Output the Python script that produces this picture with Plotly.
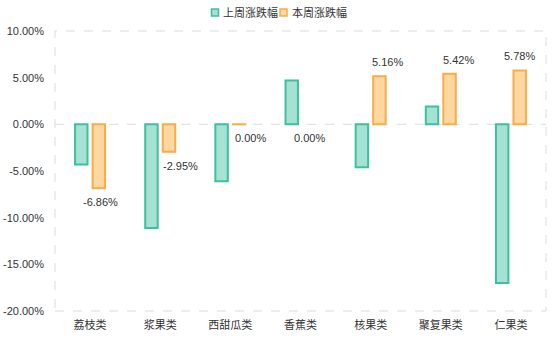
import plotly.graph_objects as go

categories = ["荔枝类", "浆果类", "西甜瓜类", "香蕉类", "核果类", "聚复果类", "仁果类"]
last_week = [-4.3, -11.1, -6.1, 4.7, -4.6, 1.9, -17.0]
this_week = [-6.86, -2.95, -0.001, 0.00, 5.16, 5.42, 5.78]
series_names = ["上周涨跌幅", "本周涨跌幅"]
y_ticks = [-20, -15, -10, -5, 0, 5, 10]

FONT = "Liberation Sans, Noto Sans CJK SC, sans-serif"
TXT = "#333333"
GREEN_FILL, GREEN_LINE = "#a5e2d4", "#3dc09e"
ORANGE_FILL, ORANGE_LINE = "#fed7a1", "#f9ac47"

# horizontal nudges of the data labels (px) so they clear neighbouring bars, as in the original
label_dx = [10, 20, 20, 9, 17, 18, 9]


def fmt(v):
    return f"{v:.2f}%".replace("-0.00%", "0.00%")


fig = go.Figure()
fig.add_trace(go.Bar(
    x=categories, y=last_week, name=series_names[0],
    marker=dict(color=GREEN_FILL, line=dict(color=GREEN_LINE, width=2)),
    showlegend=False,
))
fig.add_trace(go.Bar(
    x=categories, y=this_week, name=series_names[1],
    marker=dict(color=ORANGE_FILL,
                line=dict(color=ORANGE_LINE, width=[0 if v == 0 else 2 for v in this_week])),
    showlegend=False,
))

# data labels for this week's series, anchored at the bar ends
annotations = []
for c, v, dx in zip(categories, this_week, label_dx):
    pos = v > 0
    annotations.append(dict(
        x=c, y=v, xref="x", yref="y", text=fmt(v), showarrow=False,
        xshift=dx, yshift=6 if pos else -6, yanchor="bottom" if pos else "top",
        font=dict(family=FONT, size=11, color=TXT),
    ))

# compact legend (small squares + labels) at top centre
legend_items = [(series_names[0], GREEN_FILL, GREEN_LINE, 211.5), (series_names[1], ORANGE_FILL, ORANGE_LINE, 280)]
shapes = []
for name, fill, line, px0 in legend_items:
    shapes.append(dict(type="rect", xref="paper", yref="paper",
                       x0=(px0 - 55) / 491, x1=(px0 + 7 - 55) / 491,
                       y0=(340 - 29 - 16) / 280, y1=(340 - 29 - 9) / 280,
                       fillcolor=fill, line=dict(color=line, width=1.5)))
    annotations.append(dict(xref="paper", yref="paper", x=(px0 + 9.5 - 55) / 491,
                            y=(340 - 29 - 12.5) / 280, xanchor="left", yanchor="middle",
                            text=name, showarrow=False,
                            font=dict(family=FONT, size=11, color=TXT)))

grid = dict(color="#dcdcdc", width=1, dash="dash")
shapes += [
    dict(type="rect", xref="paper", yref="paper", x0=0, x1=1, y0=0, y1=1, line=grid, layer="below"),
    dict(type="line", xref="paper", yref="y", x0=0, x1=1, y0=0, y1=0, line=grid, layer="below"),
]

fig.update_layout(
    width=554, height=340,
    margin=dict(l=55, r=8, t=31, b=29, autoexpand=False),
    paper_bgcolor="white", plot_bgcolor="white",
    barmode="group", bargap=0.5, bargroupgap=0.29,
    font=dict(family=FONT, size=11, color=TXT),
    showlegend=False,
    xaxis=dict(showgrid=False, showline=False, zeroline=False, ticks="",
               ticklabelstandoff=6,
               tickfont=dict(family=FONT, size=11, color=TXT)),
    yaxis=dict(range=[-20, 10], tickvals=y_ticks, ticktext=[f"{v:.2f}%" for v in y_ticks],
               showgrid=False, zeroline=False, showline=False, ticks="",
               ticklabelstandoff=10,
               tickfont=dict(family=FONT, size=11, color=TXT)),
    shapes=shapes,
    annotations=annotations,
)
fig.write_html("out.html")
